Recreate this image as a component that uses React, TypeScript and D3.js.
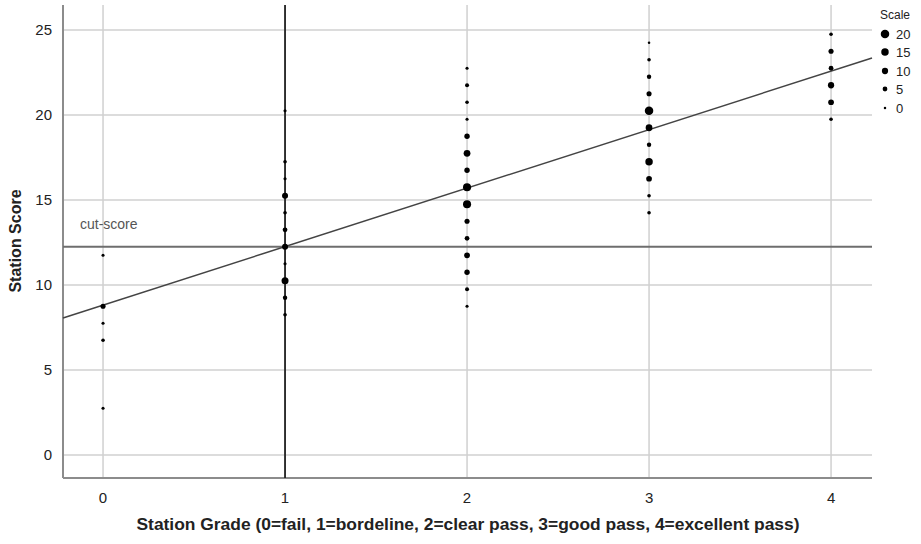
import React from 'react';
import { scaleLinear, line } from 'd3';

// dots: grade, score, frequency (size)
const grade0 = [[11.75, 1], [8.75, 6], [7.75, 1], [6.75, 2], [2.75, 1]];
const grade1 = [[20.25, 1], [17.25, 2], [16.25, 1], [15.25, 9], [14.25, 2], [13.25, 5], [12.25, 9], [11.25, 1], [10.25, 13], [9.25, 4], [8.25, 2]];
const grade2 = [[22.75, 1], [21.75, 3], [20.75, 2], [19.75, 1], [18.75, 7], [17.75, 12], [16.75, 7], [15.75, 18], [14.75, 18], [13.75, 6], [12.75, 5], [11.75, 8], [10.75, 7], [9.75, 3], [8.75, 1]];
const grade3 = [[24.25, 0], [23.25, 2], [22.25, 4], [21.25, 6], [20.25, 20], [19.25, 12], [18.25, 4], [17.25, 15], [16.25, 8], [15.25, 2], [14.25, 2]];
const grade4 = [[24.75, 2], [23.75, 6], [22.75, 5], [21.75, 10], [20.75, 8], [19.75, 2]];
const grades = [grade0, grade1, grade2, grade3, grade4];

const xTicks = [0, 1, 2, 3, 4];
const yTicks = [0, 5, 10, 15, 20, 25];
const legendValues = [20, 15, 10, 5, 0];

const cutScore = 12.25;
const intercept = 8.82;
const slope = 3.44;

const width = 921;
const height = 544;
const left = 63, right = 872, top = 5, bottom = 478;

const x = scaleLinear().domain([-0.22, 4.225]).range([left, right]);
const y = scaleLinear().domain([-1.35, 26.47]).range([bottom, top]);
const area = scaleLinear().domain([0, 20]).range([1.6, 18]);
const r = (v: number) => Math.sqrt(area(v));

const font = 'Liberation Sans, Arial, sans-serif';

export default function App() {
  const dots = grades.flatMap((g, i) => g.map(([s, n]) => ({ g: i, s, n })));
  const reg = line<number>().x(d => x(d)).y(d => y(intercept + slope * d));

  return (
    <svg width={width} height={height} style={{ position: 'absolute', left: 0, top: 0, background: '#fff' }}>
      {/* grid */}
      {yTicks.map(t => (
        <line key={'gy' + t} x1={left} x2={right} y1={y(t)} y2={y(t)} stroke="#d0d0d0" strokeWidth={1.5} />
      ))}
      {xTicks.map(t => (
        <line key={'gx' + t} x1={x(t)} x2={x(t)} y1={top} y2={bottom} stroke="#d0d0d0" strokeWidth={1.5} />
      ))}

      {/* axes */}
      <line x1={left} x2={left} y1={top} y2={bottom} stroke="#8c8c8c" strokeWidth={2} />
      <line x1={left} x2={right} y1={bottom} y2={bottom} stroke="#8c8c8c" strokeWidth={2} />

      {/* reference lines */}
      <line x1={left} x2={right} y1={y(cutScore)} y2={y(cutScore)} stroke="#6e6e6e" strokeWidth={2} />
      <line x1={x(1)} x2={x(1)} y1={top} y2={bottom} stroke="#222" strokeWidth={1.8} />
      <text x={80} y={229} fontFamily={font} fontSize={14} fill="#555">cut-score</text>

      {/* regression */}
      <path d={reg([-0.22, 4.225]) || ''} fill="none" stroke="#444" strokeWidth={1.5} />

      {/* dots */}
      {dots.map((d, i) => (
        <circle key={i} cx={x(d.g)} cy={y(d.s)} r={r(d.n)} fill="#000" />
      ))}

      {/* tick labels */}
      {yTicks.map(t => (
        <text key={'ty' + t} x={52} y={y(t) + 5} textAnchor="end" fontFamily={font} fontSize={15} fill="#222">{t}</text>
      ))}
      {xTicks.map(t => (
        <text key={'tx' + t} x={x(t)} y={503} textAnchor="middle" fontFamily={font} fontSize={15} fill="#222">{t}</text>
      ))}

      {/* titles */}
      <text x={468} y={530} textAnchor="middle" fontFamily={font} fontSize={16} fontWeight="bold" fill="#222"
        textLength={663} lengthAdjust="spacingAndGlyphs">
        Station Grade (0=fail, 1=bordeline, 2=clear pass, 3=good pass, 4=excellent pass)
      </text>
      <text transform="translate(21,241) rotate(-90)" textAnchor="middle" fontFamily={font} fontSize={16} fontWeight="bold" fill="#222">
        Station Score
      </text>

      {/* legend */}
      <text x={880} y={19} fontFamily={font} fontSize={12} fill="#222">Scale</text>
      {legendValues.map((v, i) => {
        const ly = [34, 52, 71, 89, 108][i];
        return (
          <g key={'lg' + v}>
            <circle cx={885} cy={ly} r={r(v)} fill="#000" />
            <text x={896} y={ly + 5} fontFamily={font} fontSize={13} fill="#222">{v}</text>
          </g>
        );
      })}
    </svg>
  );
}
